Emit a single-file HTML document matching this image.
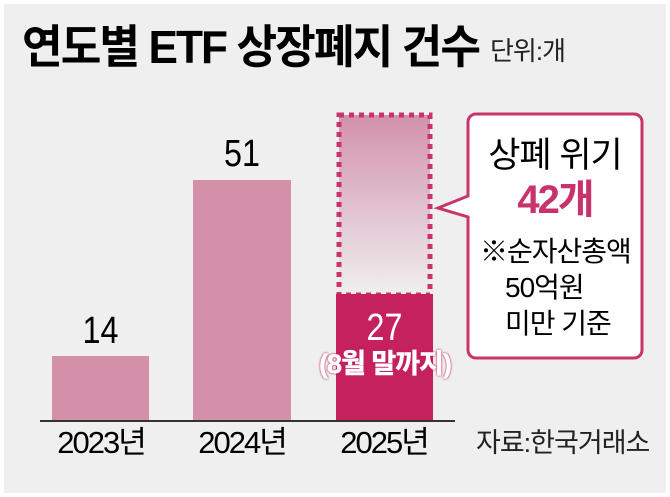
<!DOCTYPE html><html><head><meta charset="utf-8"><style>
body{margin:0;width:670px;height:497px;background:#fff;overflow:hidden;font-family:"Liberation Sans","Noto Sans CJK KR",sans-serif}
.bg{position:absolute;left:4px;top:4px;width:662px;height:489px;background:#efefef}
.t{position:absolute;white-space:nowrap;line-height:1}
</style></head><body><div class="bg"></div>
<div class="t" style="left:22px;top:24px;font-size:46px;font-weight:bold;letter-spacing:-2px;transform:scaleX(0.96);transform-origin:left">연도별 ETF 상장폐지 건수</div>
<div class="t" style="left:490px;top:38px;font-size:26px;letter-spacing:-1px;color:#222">단위:개</div>
<svg width="670" height="497" style="position:absolute;left:0;top:0">
<defs><linearGradient id="g" x1="0" y1="0" x2="0" y2="1"><stop offset="0" stop-color="#d291ab"/><stop offset="1" stop-color="#efefef"/></linearGradient></defs>
<rect x="52" y="356" width="97" height="65" fill="#d48fa9"/>
<rect x="193" y="180" width="98" height="241" fill="#d48fa9"/>
<rect x="339" y="115" width="91" height="180" fill="url(#g)"/>
<rect x="339" y="115" width="91" height="180" fill="none" stroke="#c8336c" stroke-width="5" stroke-dasharray="5,5"/>
<rect x="336" y="294" width="97" height="127" fill="#c4215e"/>
<line x1="40" y1="421" x2="455" y2="421" stroke="#333" stroke-width="2"/>
<path d="M476,114 H634 a8,8 0 0 1 8,8 V350 a8,8 0 0 1 -8,8 H476 a8,8 0 0 1 -8,-8 V217 L438,208 L468,196 V122 a8,8 0 0 1 8,-8 Z" fill="#fff" stroke="#c8336c" stroke-width="3"/>
</svg>
<div class="t" style="left:52px;width:97px;text-align:center;top:312px;font-size:38px;transform:scaleX(.85)">14</div>
<div class="t" style="left:193px;width:98px;text-align:center;top:135px;font-size:38px;transform:scaleX(.85)">51</div>
<div class="t" style="left:336px;width:97px;text-align:center;top:309px;font-size:38px;color:#fff;transform:scaleX(.85)">27</div>
<div class="t" style="left:300px;width:170px;text-align:center;top:351px;font-size:27px;font-weight:bold;color:#fff;letter-spacing:-1px;-webkit-text-stroke:0.5px #fff;text-shadow:0 0 2px #c4215e,0 0 2px #c4215e">(8월 말까지)</div>
<div class="t" style="left:35px;width:132px;text-align:center;top:427px;font-size:31px;letter-spacing:-2px">2023년</div>
<div class="t" style="left:176px;width:132px;text-align:center;top:427px;font-size:31px;letter-spacing:-2px">2024년</div>
<div class="t" style="left:318px;width:132px;text-align:center;top:427px;font-size:31px;letter-spacing:-2px">2025년</div>
<div class="t" style="left:468px;width:174px;text-align:center;top:138px;font-size:35px;letter-spacing:-1px">상폐 위기</div>
<div class="t" style="left:468px;width:174px;text-align:center;top:180px;font-size:40px;font-weight:bold;color:#c8336c;letter-spacing:-2px">42개</div>
<div class="t" style="left:480px;top:238px;font-size:28px;letter-spacing:-1px">※순자산총액</div>
<div class="t" style="left:505px;top:274px;font-size:28px;letter-spacing:-1px">50억원</div>
<div class="t" style="left:505px;top:310px;font-size:28px;letter-spacing:-1px">미만 기준</div>
<div class="t" style="left:476px;top:430px;font-size:27px;letter-spacing:-1px;color:#222">자료:한국거래소</div>
</body></html>
